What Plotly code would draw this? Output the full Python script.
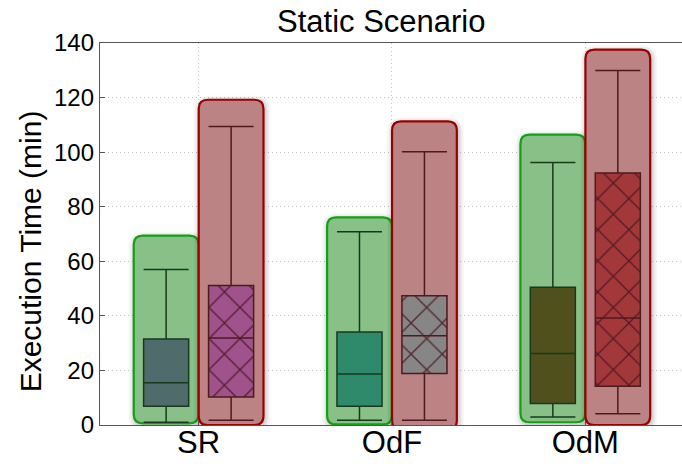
import plotly.graph_objects as go

# ---- data -------------------------------------------------------------
categories = ["SR", "OdF", "OdM"]
cat_pos = [1, 2, 3]

# first configuration (green panels)
green_upper = [57.0, 70.8, 96.2]
green_q3 = [31.5, 34.1, 50.5]
green_median = [15.5, 18.7, 26.2]
green_q1 = [6.9, 6.9, 7.9]
green_lower = [1.0, 1.7, 2.9]
green_panel_top = [69.4, 76.1, 106.4]
green_panel_bottom = [0.6, 0.2, 1.0]

# second configuration (red panels, hatched boxes)
red_upper = [109.4, 100.1, 129.9]
red_q3 = [51.1, 47.4, 92.4]
red_median = [31.9, 32.7, 39.2]
red_q1 = [10.3, 18.9, 14.2]
red_lower = [1.7, 1.7, 4.1]
red_panel_top = [119.2, 111.3, 137.6]
red_panel_bottom = [0.0, -1.6, 0.0]

green_box_colors = ["#506b6b", "#2f8a6c", "#50501c"]
red_box_colors = ["#a0528c", "#868686", "#a3383a"]

y_ticks = [0, 20, 40, 60, 80, 100, 120, 140]

# ---- geometry ---------------------------------------------------------
W, H = 682, 464
ML, MR, MT, MB = 100, 0, 43, 39
XR = [0.49, 3.5]
YR = [0, 140]
px_x = (W - ML - MR) / (XR[1] - XR[0])
px_y = (H - MT - MB) / (YR[1] - YR[0])

OFFSET = 0.168
PANEL_W = 0.335
BOX_W = 0.233


def rounded_rect(x0, x1, y0, y1, r_px):
    rx, ry = r_px / px_x, r_px / px_y
    return (f"M {x0+rx},{y0} L {x1-rx},{y0} Q {x1},{y0} {x1},{y0+ry} "
            f"L {x1},{y1-ry} Q {x1},{y1} {x1-rx},{y1} "
            f"L {x0+rx},{y1} Q {x0},{y1} {x0},{y1-ry} "
            f"L {x0},{y0+ry} Q {x0},{y0} {x0+rx},{y0} Z")


shapes = []


def add_panel(xc, bottom, top, fill, edge):
    x0, x1 = xc - PANEL_W / 2, xc + PANEL_W / 2
    # soft shadow halo
    for grow, alpha in [(6, 0.03), (4.5, 0.04), (3, 0.05), (1.5, 0.06)]:
        gx, gy = grow / px_x, grow / px_y
        shapes.append(dict(type="path", xref="x", yref="y", layer="between",
                           path=rounded_rect(x0 - gx + 1 / px_x, x1 + gx + 1 / px_x,
                                             bottom - gy - 2 / px_y, top + gy - 2 / px_y,
                                             9 + grow),
                           fillcolor=f"rgba(0,0,0,{alpha})", line=dict(width=0)))
    shapes.append(dict(type="path", xref="x", yref="y", layer="between",
                       path=rounded_rect(x0, x1, bottom, top, 9),
                       fillcolor=fill, line=dict(color=edge, width=2.2)))


for i, c in enumerate(cat_pos):
    add_panel(c - OFFSET, green_panel_bottom[i], green_panel_top[i], "#88c088", "#14a014")
    add_panel(c + OFFSET, red_panel_bottom[i], red_panel_top[i], "#bb8383", "#990000")

fig = go.Figure()

# hatched fill for the red-panel boxes
for i, c in enumerate(cat_pos):
    fig.add_trace(go.Bar(
        x=[c + OFFSET], y=[red_q3[i] - red_q1[i]], base=[red_q1[i]], width=BOX_W,
        marker=dict(color=red_box_colors[i], line=dict(width=0),
                    pattern=dict(shape="x", size=22, solidity=0.12,
                                 fgcolor="#4a1520", fgopacity=0.85)),
        showlegend=False, hoverinfo="skip"))

for i, c in enumerate(cat_pos):
    fig.add_trace(go.Box(
        x=[c - OFFSET], q1=[green_q1[i]], median=[green_median[i]], q3=[green_q3[i]],
        lowerfence=[green_lower[i]], upperfence=[green_upper[i]],
        width=BOX_W, whiskerwidth=1, boxpoints=False,
        fillcolor=green_box_colors[i], line=dict(color="#173a1c", width=1.5),
        showlegend=False))
    fig.add_trace(go.Box(
        x=[c + OFFSET], q1=[red_q1[i]], median=[red_median[i]], q3=[red_q3[i]],
        lowerfence=[red_lower[i]], upperfence=[red_upper[i]],
        width=BOX_W, whiskerwidth=1, boxpoints=False,
        fillcolor="rgba(0,0,0,0)", line=dict(color="#4e1a1e", width=1.5),
        showlegend=False))

# y-axis title, set slightly below the plot's vertical centre
fig.add_annotation(text="Execution Time (min)", textangle=-90,
                   xref="paper", yref="paper", x=-0.12, y=0.455,
                   xanchor="center", yanchor="middle", showarrow=False,
                   font=dict(size=30, color="black"))

fig.update_layout(
    width=W, height=H,
    margin=dict(l=ML, r=MR, t=MT, b=MB, autoexpand=False),
    paper_bgcolor="white", plot_bgcolor="white",
    barmode="overlay", boxmode="overlay",
    shapes=shapes,
    font=dict(family="Liberation Sans, Arial, sans-serif", color="black"),
    title=dict(text="Static Scenario", x=0.559, xanchor="center", y=0.955, yanchor="middle",
               font=dict(size=31, color="black")),
    xaxis=dict(range=XR, tickvals=cat_pos, ticktext=categories, automargin=False,
               tickfont=dict(size=31), ticks="inside", ticklen=4, tickcolor="#555",
               ticklabelstandoff=-10,
               showgrid=True, gridcolor="#c4c4c4", griddash="1px,3px", gridwidth=1,
               showline=True, linecolor="#555", linewidth=1.3, mirror=True,
               zeroline=False, fixedrange=True),
    yaxis=dict(range=YR, tickvals=y_ticks, tickfont=dict(size=24), automargin=False,
               ticks="inside", ticklen=5, tickcolor="#555",
               showgrid=True, gridcolor="#c4c4c4", griddash="1px,3px", gridwidth=1,
               showline=True, linecolor="#555", linewidth=1.3,
               zeroline=False, fixedrange=True),
)

fig.write_html("out.html")
